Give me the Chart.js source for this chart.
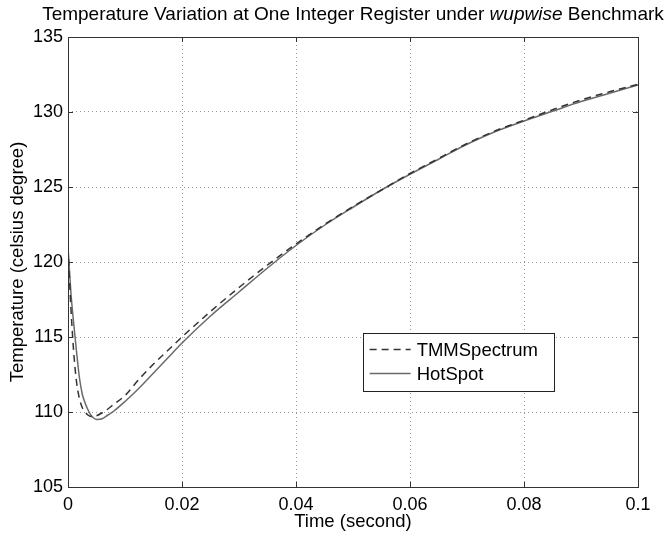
<!DOCTYPE html>
<html>
<head>
<meta charset="utf-8">
<script src="https://cdn.jsdelivr.net/npm/chart.js@4/dist/chart.umd.min.js"></script>
<style>
  html, body { margin: 0; padding: 0; background: #fff; }
  #wrap { width: 665px; height: 535px; }
</style>
</head>
<body>
<div id="wrap"><canvas id="c" width="665" height="535"></canvas></div>
<script>
// ---- data ----
const timeSec = [0, 0.0005, 0.001, 0.0015, 0.002, 0.0025, 0.003, 0.0035, 0.004, 0.0045, 0.005, 0.006, 0.007, 0.008, 0.01, 0.0125, 0.015, 0.0175, 0.02, 0.025, 0.03, 0.035, 0.04, 0.045, 0.05, 0.055, 0.06, 0.065, 0.07, 0.075, 0.08, 0.085, 0.09, 0.095, 0.1];
const tmmSpectrum = [121.0, 117.0, 114.0, 112.0, 110.9, 110.3, 110.0, 109.8, 109.7, 109.7, 109.75, 109.95, 110.2, 110.5, 111.1, 112.2, 113.2, 114.1, 115.0, 116.7, 118.3, 119.8, 121.2, 122.5, 123.7, 124.8, 125.9, 126.9, 127.9, 128.75, 129.45, 130.15, 130.8, 131.35, 131.85];
const hotSpot = [121.0, 118.0, 115.9, 114.0, 112.3, 111.2, 110.6, 110.15, 109.8, 109.6, 109.5, 109.55, 109.8, 110.05, 110.7, 111.6, 112.6, 113.6, 114.6, 116.4, 118.0, 119.6, 121.1, 122.45, 123.65, 124.8, 125.85, 126.85, 127.85, 128.7, 129.4, 130.05, 130.7, 131.25, 131.8];
const seriesNames = ['TMMSpectrum', 'HotSpot'];
const xTickValues = [0, 0.02, 0.04, 0.06, 0.08, 0.1];
const xTickLabels = ['0', '0.02', '0.04', '0.06', '0.08', '0.1'];
const yTickValues = [105, 110, 115, 120, 125, 130, 135];
const yTickLabels = ['105', '110', '115', '120', '125', '130', '135'];
const titleParts = [
  { text: 'Temperature Variation at One Integer Register under ', italic: false },
  { text: 'wupwise', italic: true },
  { text: ' Benchmark', italic: false }
];
const xAxisTitle = 'Time (second)';
const yAxisTitle = 'Temperature (celsius degree)';

const FONT = '"Liberation Sans", Arial, sans-serif';

function pts(vals) { return timeSec.map((t, i) => ({ x: t, y: vals[i] })); }

const titlePlugin = {
  id: 'mixedTitle',
  afterDraw(chart) {
    const ctx = chart.ctx;
    const ca = chart.chartArea;
    const size = 19;
    ctx.save();
    ctx.fillStyle = '#000';
    ctx.textBaseline = 'alphabetic';
    ctx.textAlign = 'left';
    let widths = titleParts.map(p => {
      ctx.font = (p.italic ? 'italic ' : '') + size + 'px ' + FONT;
      return ctx.measureText(p.text).width;
    });
    const total = widths.reduce((a, b) => a + b, 0);
    let x = (ca.left + ca.right) / 2 - total / 2;
    titleParts.forEach((p, i) => {
      ctx.font = (p.italic ? 'italic ' : '') + size + 'px ' + FONT;
      ctx.fillText(p.text, x, 20);
      x += widths[i];
    });
    ctx.restore();
  }
};

const framePlugin = {
  id: 'frame',
  afterDatasetsDraw(chart) {
    const ctx = chart.ctx;
    const ca = chart.chartArea;
    const xs = chart.scales.x, ys = chart.scales.y;
    ctx.save();
    ctx.strokeStyle = '#333';
    ctx.lineWidth = 1;
    ctx.setLineDash([]);
    ctx.beginPath();
    const tl = 5;
    xTickValues.forEach(v => {
      const px = Math.round(xs.getPixelForValue(v)) + 0.5;
      ctx.moveTo(px, ca.bottom); ctx.lineTo(px, ca.bottom - tl);
      ctx.moveTo(px, ca.top); ctx.lineTo(px, ca.top + tl);
    });
    yTickValues.forEach(v => {
      const py = Math.round(ys.getPixelForValue(v)) + 0.5;
      ctx.moveTo(ca.left, py); ctx.lineTo(ca.left + tl, py);
      ctx.moveTo(ca.right, py); ctx.lineTo(ca.right - tl, py);
    });
    ctx.stroke();
    ctx.strokeRect(Math.round(ca.left) + 0.5, Math.round(ca.top) + 0.5, Math.round(ca.right - ca.left), Math.round(ca.bottom - ca.top));

    // legend box
    const bx = xs.getPixelForValue(0.05169), by = ys.getPixelForValue(115.27);
    const bw = 191, bh = 58;
    ctx.fillStyle = '#fff';
    ctx.fillRect(bx, by, bw, bh);
    ctx.strokeStyle = '#222';
    ctx.strokeRect(Math.round(bx) + 0.5, Math.round(by) + 0.5, bw, bh);
    chart.data.datasets.forEach((ds, i) => {
      const ly = Math.round(by + 16 + i * 24) + 0.5;
      ctx.strokeStyle = ds.borderColor;
      ctx.lineWidth = ds.borderWidth;
      ctx.setLineDash(ds.borderDash || []);
      ctx.beginPath();
      ctx.moveTo(bx + 7, ly); ctx.lineTo(bx + 48, ly);
      ctx.stroke();
      ctx.setLineDash([]);
      ctx.fillStyle = '#000';
      ctx.font = '18.5px ' + FONT;
      ctx.textBaseline = 'middle';
      ctx.textAlign = 'left';
      ctx.fillText(ds.label, bx + 54, ly + 1);
    });
    ctx.restore();
  }
};

new Chart(document.getElementById('c'), {
  type: 'line',
  data: {
    datasets: [
      {
        label: seriesNames[0],
        data: pts(tmmSpectrum),
        borderColor: '#333333',
        borderWidth: 1.5,
        borderDash: [7, 5],
        pointRadius: 0,
        fill: false,
        cubicInterpolationMode: 'monotone'
      },
      {
        label: seriesNames[1],
        data: pts(hotSpot),
        borderColor: '#6a6a6a',
        borderWidth: 1.5,
        pointRadius: 0,
        fill: false,
        cubicInterpolationMode: 'monotone'
      }
    ]
  },
  options: {
    responsive: false,
    animation: false,
    layout: { padding: { top: 37, right: 27, left: 0, bottom: 0 } },
    plugins: {
      legend: { display: false },
      title: { display: false },
      tooltip: { enabled: false }
    },
    scales: {
      x: {
        type: 'linear',
        min: 0, max: 0.1,
        afterFit(s) { s.height = 48; },
        afterBuildTicks(s) { s.ticks = xTickValues.map(v => ({ value: v })); },
        ticks: {
          padding: 7,
          color: '#000',
          font: { family: FONT, size: 18 },
          maxRotation: 0,
          autoSkip: false,
          callback: (v) => { const i = xTickValues.findIndex(t => Math.abs(t - v) < 1e-9); return i >= 0 ? xTickLabels[i] : ''; }
        },
        grid: { color: '#9a9a9a', lineWidth: 1, drawTicks: false },
        border: { display: false, dash: [1, 3] },
        title: { display: true, text: xAxisTitle, color: '#000', font: { family: FONT, size: 18.5 }, padding: { top: 0, bottom: 2 } }
      },
      y: {
        type: 'linear',
        min: 105, max: 135,
        afterFit(s) { s.width = 68; },
        afterBuildTicks(s) { s.ticks = yTickValues.map(v => ({ value: v })); },
        ticks: {
          padding: 5,
          color: '#000',
          font: { family: FONT, size: 18 },
          autoSkip: false,
          callback: (v) => { const i = yTickValues.indexOf(v); return i >= 0 ? yTickLabels[i] : ''; }
        },
        grid: { color: '#9a9a9a', lineWidth: 1, drawTicks: false },
        border: { display: false, dash: [1, 3] },
        title: { display: true, text: yAxisTitle, color: '#000', font: { family: FONT, size: 18.5 }, padding: { top: 7, bottom: 0 } }
      }
    }
  },
  plugins: [titlePlugin, framePlugin]
});
</script>
</body>
</html>
